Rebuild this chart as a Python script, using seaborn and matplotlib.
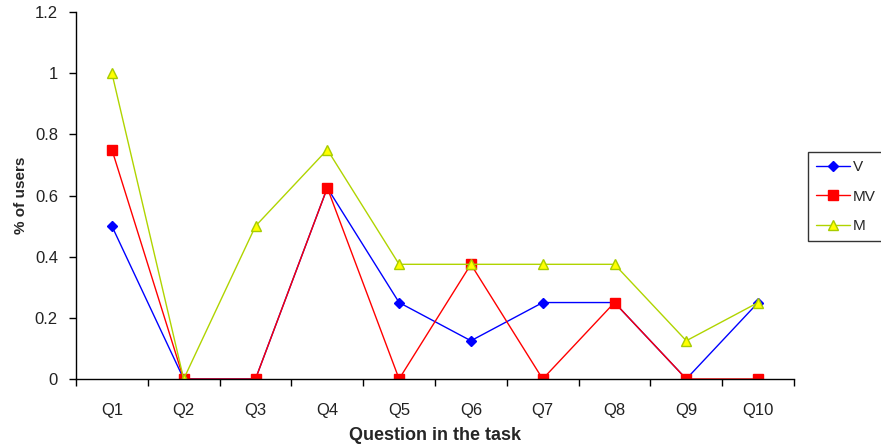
import matplotlib
matplotlib.use("Agg")
import matplotlib.pyplot as plt
from matplotlib.ticker import FixedLocator, NullFormatter, FixedFormatter
import seaborn as sns
import pandas as pd

questions = ["Q1", "Q2", "Q3", "Q4", "Q5", "Q6", "Q7", "Q8", "Q9", "Q10"]
v_vals = [0.5, 0.0, 0.0, 0.625, 0.25, 0.125, 0.25, 0.25, 0.0, 0.25]
mv_vals = [0.75, 0.0, 0.0, 0.625, 0.0, 0.375, 0.0, 0.25, 0.0, 0.0]
m_vals = [1.0, 0.0, 0.5, 0.75, 0.375, 0.375, 0.375, 0.375, 0.125, 0.25]
y_ticks = [0, 0.2, 0.4, 0.6, 0.8, 1, 1.2]
y_tick_labels = ["0", "0.2", "0.4", "0.6", "0.8", "1", "1.2"]

sns.set_theme(style="white")
plt.rcParams["font.family"] = ["Liberation Sans", "DejaVu Sans"]

fig = plt.figure(figsize=(8.81, 4.47), dpi=100)
ax = fig.add_axes([76 / 881, 1 - 379 / 447, (794 - 76) / 881, (379 - 12) / 447])

series = [
    ("V", v_vals, dict(color="#0000FF", marker="D", markersize=5.5,
                       markerfacecolor="#0000FF", markeredgecolor="#0000FF")),
    ("MV", mv_vals, dict(color="#FF0000", marker="s", markersize=6.5,
                         markerfacecolor="#FF0000", markeredgecolor="#FF0000")),
    ("M", m_vals, dict(color="#B0D400", marker="^", markersize=7.5,
                       markerfacecolor="#FFFF00", markeredgecolor="#A8CC00")),
]

xs = list(range(len(questions)))
for name, vals, style in series:
    df = pd.DataFrame({"x": xs, "y": vals})
    sns.lineplot(data=df, x="x", y="y", ax=ax, label=name, linewidth=1.0,
                 markeredgewidth=1.0, **style)

ax.set_xlim(-0.5, len(questions) - 0.5)
ax.set_ylim(0, 1.2)

# category boundaries get tick marks, category centres get the labels
ax.xaxis.set_major_locator(FixedLocator([i - 0.5 for i in range(len(questions) + 1)]))
ax.xaxis.set_major_formatter(NullFormatter())
ax.xaxis.set_minor_locator(FixedLocator(xs))
ax.xaxis.set_minor_formatter(FixedFormatter(questions))
ax.tick_params(axis="x", which="major", direction="out", length=5, width=1, color="black", bottom=True)
ax.tick_params(axis="x", which="minor", length=0, pad=17, labelsize=12, labelcolor="#222222", bottom=True)

ax.set_yticks(y_ticks)
ax.set_yticklabels(y_tick_labels)
ax.tick_params(axis="y", direction="out", length=5, width=1, color="black", left=True,
               labelsize=12, labelcolor="#222222", pad=8)

for side in ("top", "right"):
    ax.spines[side].set_visible(False)
for side in ("left", "bottom"):
    ax.spines[side].set_color("black")
    ax.spines[side].set_linewidth(1.0)

ax.set_xlabel("Question in the task", fontsize=13, fontweight="bold", labelpad=7)
ax.set_ylabel("% of users", fontsize=11, fontweight="bold", labelpad=5)
ax.grid(False)

leg = ax.legend(loc="upper left", bbox_to_anchor=(808 / 881, 1 - 152 / 447),
                bbox_transform=fig.transFigure, frameon=True, fontsize=11,
                handlelength=2.2, handletextpad=0.2, borderpad=0.55,
                labelspacing=1.0, fancybox=False, borderaxespad=0)
leg.get_frame().set_edgecolor("black")
leg.get_frame().set_linewidth(1.0)

fig.savefig("out.png", dpi=100)
